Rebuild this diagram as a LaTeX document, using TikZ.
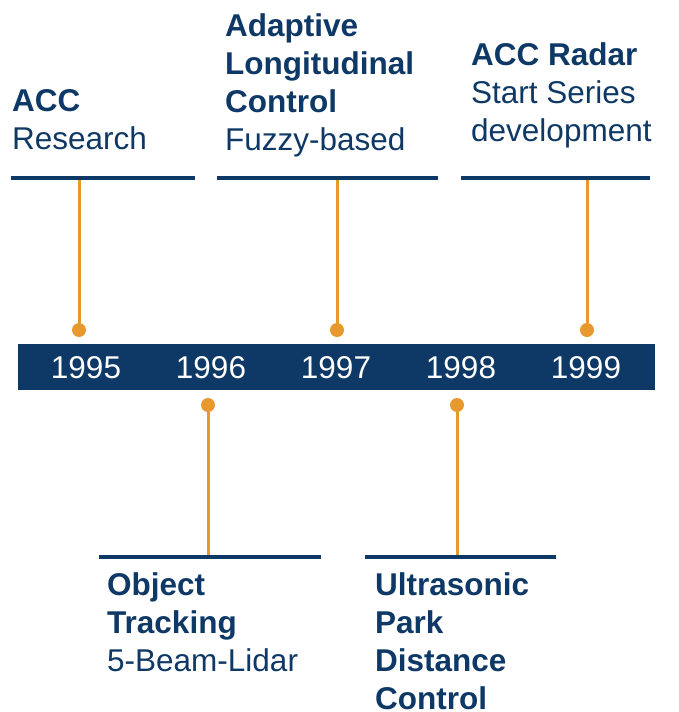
\documentclass[tikz,border=0pt]{standalone}
\usepackage{fontspec}
\setmainfont{Liberation Sans}
\definecolor{navy}{RGB}{14,56,101}
\definecolor{amber}{RGB}{232,153,46}

\begin{document}
\begin{tikzpicture}[x=1pt, y=-1pt,
  band/.style={fill=navy, inner sep=0pt, minimum width=637pt, minimum height=46pt},
  year/.style={text=white, inner sep=0pt, font=\fontsize{31.5}{37}\selectfont},
  rule/.style={fill=navy, inner sep=0pt, minimum height=4pt},
  dot/.style={circle, fill=amber, inner sep=0pt, minimum size=14pt},
  stem/.style={draw=amber, line width=3pt},
  milestone/.style={text=navy, anchor=north west, align=left, inner sep=0pt,
    font=\fontsize{31.5}{38}\selectfont}
]
  \useasboundingbox (0,0) rectangle (678,712);

  \node[band] (bar) at (336.5,367) {};
  \node[year] (y95) at (86,368) {1995};
  \node[year] (y96) at (211,368) {1996};
  \node[year] (y97) at (336,368) {1997};
  \node[year] (y98) at (461,368) {1998};
  \node[year] (y99) at (586,368) {1999};

  \node[rule, minimum width=184pt] (r95) at (103,178) {};
  \node[rule, minimum width=221pt] (r97) at (327.5,178) {};
  \node[rule, minimum width=189pt] (r99) at (555.5,178) {};
  \node[rule, minimum width=222pt] (r96) at (210,557) {};
  \node[rule, minimum width=191pt] (r98) at (460.5,557) {};

  \node[dot] (d95) at (79,330) {};
  \node[dot] (d97) at (337,330) {};
  \node[dot] (d99) at (587,330) {};
  \node[dot] (d96) at (208,405) {};
  \node[dot] (d98) at (457,405) {};

  \draw[stem] (d95 |- r95.south) -- (d95);
  \draw[stem] (d97 |- r97.south) -- (d97);
  \draw[stem] (d99 |- r99.south) -- (d99);
  \draw[stem] (d96 |- r96.north) -- (d96);
  \draw[stem] (d98 |- r98.north) -- (d98);

  \node[milestone] (t95) at (12,89) {\textbf{ACC}\\Research};
  \node[milestone] (t97) at (225,13) {\textbf{Adaptive}\\\textbf{Longitudinal}\\\textbf{Control}\\Fuzzy-based};
  \node[milestone] (t99) at (471,42) {\textbf{ACC Radar}\\Start Series\\development};
  \node[milestone] (t96) at (107,572) {\textbf{Object}\\\textbf{Tracking}\\5-Beam-Lidar};
  \node[milestone] (t98) at (375,572) {\textbf{Ultrasonic}\\\textbf{Park}\\\textbf{Distance}\\\textbf{Control}};
\end{tikzpicture}
\end{document}
